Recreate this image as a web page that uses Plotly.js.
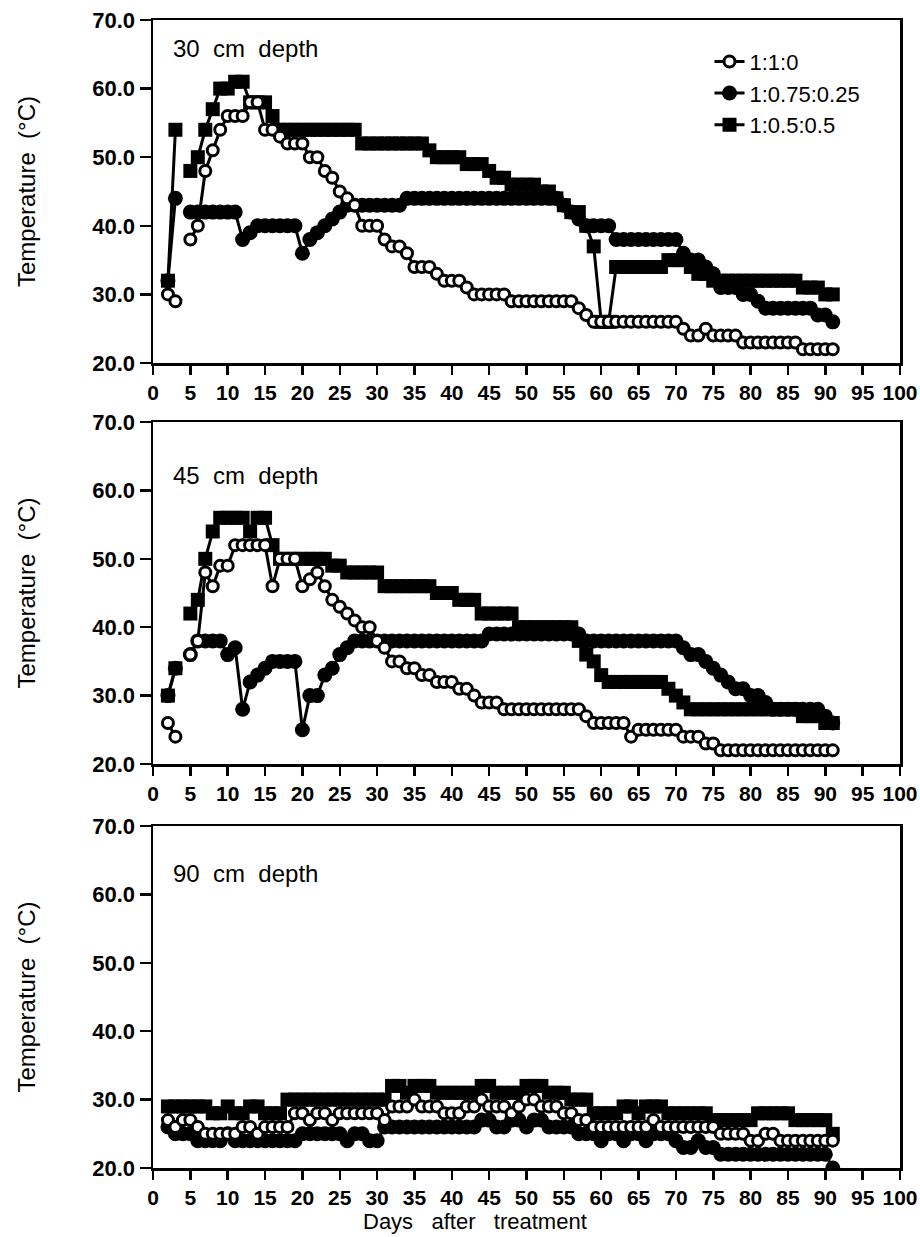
<!DOCTYPE html>
<html>
<head>
<meta charset="utf-8">
<script src="https://cdn.plot.ly/plotly-3.0.1.min.js"></script>
<style>html,body{margin:0;padding:0;background:#fff;}</style>
</head>
<body>
<div id="chart" style="width:920px;height:1237px;"></div>
<script>
// Days after treatment (x values)
const days = [2,3,4,5,6,7,8,9,10,11,
  12,13,14,15,16,17,18,19,20,21,
  22,23,24,25,26,27,28,29,30,31,
  32,33,34,35,36,37,38,39,40,41,
  42,43,44,45,46,47,48,49,50,51,
  52,53,54,55,56,57,58,59,60,61,
  62,63,64,65,66,67,68,69,70,71,
  72,73,74,75,76,77,78,79,80,81,
  82,83,84,85,86,87,88,89,90,91];

const seriesNames = ['1:1:0', '1:0.75:0.25', '1:0.5:0.5'];
const depthLabels = ['30  cm  depth', '45  cm  depth', '90  cm  depth'];
const xTickVals = [0,5,10,15,20,25,30,35,40,45,50,55,60,65,70,75,80,85,90,95,100];
const yTickVals = [20,30,40,50,60,70];
const yTickText = ['20.0','30.0','40.0','50.0','60.0','70.0'];

// 30 cm depth
const c30 = [30,29,null,38,40,48,51,54,56,56,
  56,58,58,54,54,53,52,52,52,50,
  50,48,47,45,44,43,40,40,40,38,
  37,37,36,34,34,34,33,32,32,32,
  31,30,30,30,30,30,29,29,29,29,
  29,29,29,29,29,28,27,26,26,26,
  26,26,26,26,26,26,26,26,26,25,
  24,24,25,24,24,24,24,23,23,23,
  23,23,23,23,23,22,22,22,22,22];
const f30 = [32,44,null,42,42,42,42,42,42,42,
  38,39,40,40,40,40,40,40,36,38,
  39,40,41,42,43,43,43,43,43,43,
  43,43,44,44,44,44,44,44,44,44,
  44,44,44,44,44,44,44,44,44,44,
  44,44,44,43,42,41,40,40,40,40,
  38,38,38,38,38,38,38,38,38,36,
  35,35,34,33,31,31,31,30,30,29,
  28,28,28,28,28,28,28,27,27,26];
const s30 = [32,54,null,48,50,54,57,60,60,61,
  61,58,58,58,56,54,54,54,54,54,
  54,54,54,54,54,54,52,52,52,52,
  52,52,52,52,52,51,50,50,50,50,
  49,49,49,48,47,47,46,46,46,46,
  45,45,44,43,42,42,40,37,26,26,
  34,34,34,34,34,34,34,35,35,35,
  34,33,33,32,32,32,32,32,32,32,
  32,32,32,32,32,31,31,31,30,30];

// 45 cm depth
const c45 = [26,24,null,36,38,48,46,49,49,52,
  52,52,52,52,46,50,50,50,46,47,
  48,46,44,43,42,41,40,40,38,37,
  35,35,34,34,33,33,32,32,32,31,
  31,30,29,29,29,28,28,28,28,28,
  28,28,28,28,28,28,27,26,26,26,
  26,26,24,25,25,25,25,25,25,24,
  24,24,23,23,22,22,22,22,22,22,
  22,22,22,22,22,22,22,22,22,22];
const f45 = [30,34,null,36,38,38,38,38,36,37,
  28,32,33,34,35,35,35,35,25,30,
  30,33,34,36,37,38,38,38,38,38,
  38,38,38,38,38,38,38,38,38,38,
  38,38,38,39,39,39,39,39,39,39,
  39,39,39,39,39,39,38,38,38,38,
  38,38,38,38,38,38,38,38,38,37,
  36,36,35,34,33,32,31,31,30,30,
  29,28,28,28,28,28,28,28,27,26];
const s45 = [30,34,null,42,44,50,54,56,56,56,
  56,54,56,56,52,50,50,50,50,50,
  50,50,49,49,48,48,48,48,48,46,
  46,46,46,46,46,46,45,45,45,44,
  44,44,42,42,42,42,42,40,40,40,
  40,40,40,40,40,38,36,35,33,32,
  32,32,32,32,32,32,32,31,30,29,
  28,28,28,28,28,28,28,28,28,28,
  28,28,28,28,28,27,27,27,26,26];

// 90 cm depth
const c90 = [27,26,27,27,26,25,25,25,25,25,
  26,26,25,26,26,26,26,28,28,27,
  28,28,27,28,28,28,28,28,28,27,
  29,29,29,30,29,29,29,28,28,28,
  29,29,30,29,29,29,28,29,30,30,
  29,29,29,28,28,27,27,26,26,26,
  26,26,26,26,26,27,26,26,26,26,
  26,26,26,26,25,25,25,25,24,24,
  25,25,24,24,24,24,24,24,24,24];
const f90 = [26,25,25,25,24,24,24,24,25,24,
  24,24,24,24,24,24,24,24,25,25,
  25,25,25,25,24,25,25,24,24,26,
  26,26,26,26,26,26,26,26,26,26,
  26,26,27,27,26,26,27,27,26,27,
  27,26,26,26,26,25,25,25,24,25,
  25,24,25,25,24,25,25,25,24,23,
  23,24,23,23,22,22,22,22,22,22,
  22,22,22,22,22,22,22,22,22,20];
const s90 = [29,29,29,29,29,29,28,28,29,28,
  28,29,29,28,28,28,30,30,30,30,
  30,30,30,30,30,30,30,30,30,30,
  32,32,31,32,32,32,31,31,31,31,
  31,31,32,32,31,31,31,31,32,32,
  32,31,31,31,30,30,30,28,28,28,
  28,29,29,28,29,29,29,28,28,28,
  28,28,28,27,27,27,27,27,27,28,
  28,28,28,28,27,27,27,27,27,25];

const panels = [
  {c: c30, f: f30, s: s30},
  {c: c45, f: f45, s: s45},
  {c: c90, f: f90, s: s90}
];

const FONT = 'Liberation Sans, Arial, Helvetica, sans-serif';
const traces = [];
panels.forEach((p, i) => {
  const xa = i === 0 ? 'x' : 'x' + (i + 1);
  const ya = i === 0 ? 'y' : 'y' + (i + 1);
  const lg = i === 0;
  traces.push({
    x: days, y: p.s, xaxis: xa, yaxis: ya, type: 'scatter', mode: 'lines+markers',
    name: seriesNames[2], showlegend: lg, legendgroup: 's',
    line: {color: 'black', width: 3},
    marker: {symbol: 'square', size: 14, color: 'black'}
  });
  traces.push({
    x: days, y: p.f, xaxis: xa, yaxis: ya, type: 'scatter', mode: 'lines+markers',
    name: seriesNames[1], showlegend: lg, legendgroup: 'f',
    line: {color: 'black', width: 3},
    marker: {symbol: 'circle', size: 15, color: 'black'}
  });
  traces.push({
    x: days, y: p.c, xaxis: xa, yaxis: ya, type: 'scatter', mode: 'lines+markers',
    name: seriesNames[0], showlegend: lg, legendgroup: 'c',
    line: {color: 'black', width: 3},
    marker: {symbol: 'circle', size: 11, color: 'white', line: {color: 'black', width: 3}}
  });
});

function xAxis(anchor) {
  return {
    anchor: anchor, range: [0, 100], tickmode: 'array', tickvals: xTickVals,
    ticks: 'outside', ticklen: 9, tickwidth: 2.5, tickcolor: 'black',
    showline: true, linewidth: 2.5, linecolor: 'black', mirror: true,
    showgrid: false, zeroline: false, tickangle: 0,
    tickfont: {family: FONT, size: 21, color: 'black', weight: 'bold'}
  };
}
function yAxis(anchor, domain) {
  return {
    anchor: anchor, domain: domain, range: [20, 70], tickmode: 'array',
    tickvals: yTickVals, ticktext: yTickText,
    ticks: 'outside', ticklen: 11, tickwidth: 2.5, tickcolor: 'black',
    showline: true, linewidth: 2.5, linecolor: 'black', mirror: true,
    showgrid: false, zeroline: false,
    tickfont: {family: FONT, size: 22, color: 'black', weight: 'bold'},
    title: {text: 'Temperature  (°C)', font: {family: FONT, size: 24, color: 'black'}, standoff: 50}
  };
}

const annotations = depthLabels.map((t, i) => ({
  text: t, xref: i === 0 ? 'x' : 'x' + (i + 1), yref: i === 0 ? 'y' : 'y' + (i + 1),
  x: 2.4, y: [65.9, 62.2, 63.1][i], xanchor: 'left', yanchor: 'middle', showarrow: false,
  font: {family: FONT, size: 24, color: 'black'}
}));
annotations.push({
  text: 'Days   after   treatment', xref: 'paper', yref: 'paper',
  x: 0.431, y: -0.047, xanchor: 'center', yanchor: 'middle', showarrow: false,
  font: {family: FONT, size: 22, color: 'black'}
});

const layout = {
  width: 920, height: 1237,
  margin: {l: 153, r: 20, t: 20, b: 69},
  paper_bgcolor: 'white', plot_bgcolor: 'white',
  font: {family: FONT, size: 20, color: 'black'},
  showlegend: true,
  legend: {
    x: 0.745, y: 0.982, xanchor: 'left', yanchor: 'top', traceorder: 'reversed',
    bgcolor: 'rgba(0,0,0,0)', borderwidth: 0, tracegroupgap: 0,
    font: {family: FONT, size: 22, color: 'black'}
  },
  xaxis: xAxis('y'),
  xaxis2: xAxis('y2'),
  xaxis3: xAxis('y3'),
  yaxis: yAxis('x', [0.7012, 1]),
  yaxis2: yAxis('x2', [0.3519, 0.6498]),
  yaxis3: yAxis('x3', [0, 0.2979]),
  annotations: annotations
};

Plotly.newPlot('chart', traces, layout, {staticPlot: true, displayModeBar: false});
</script>
</body>
</html>
